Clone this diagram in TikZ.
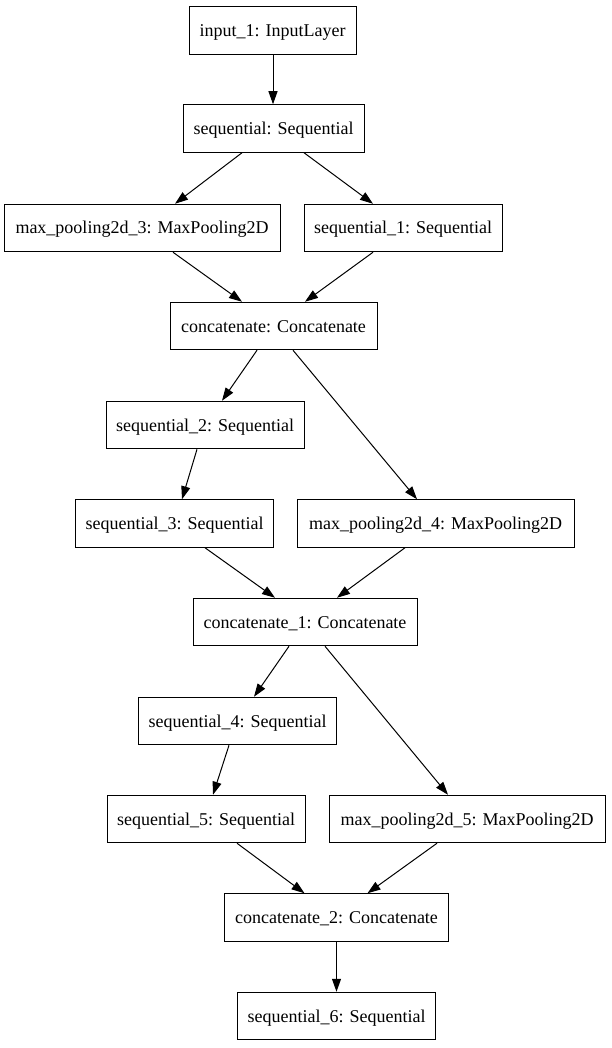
\documentclass[tikz,border=0pt]{standalone}
\usepackage{fontspec}
\setmainfont{Liberation Serif}
\usetikzlibrary{arrows.meta}
\begin{document}
\begin{tikzpicture}[x=1pt,y=-1pt,
  box/.style={draw, line width=1pt, rectangle, inner sep=0pt, minimum height=47.5pt, text height=16pt, text depth=4pt, font=\fontsize{18}{20}\selectfont},
  conn/.style={line width=1pt, -{Triangle[length=13pt,width=9pt]}}]
\useasboundingbox (0,0) rectangle (611,1048);
\node[box, minimum width=167pt] (in) at (272.5,30.5) {input\_1: InputLayer};
\node[box, minimum width=181pt] (seq) at (273.5,128.5) {sequential: Sequential};
\node[box, minimum width=276pt] (mp3) at (142,228) {max\_pooling2d\_3: MaxPooling2D};
\node[box, minimum width=198pt] (seq1) at (403,228) {sequential\_1: Sequential};
\node[box, minimum width=207pt] (cat) at (273.5,326) {concatenate: Concatenate};
\node[box, minimum width=198pt] (seq2) at (205,425) {sequential\_2: Sequential};
\node[box, minimum width=198pt] (seq3) at (174.5,523.5) {sequential\_3: Sequential};
\node[box, minimum width=277pt] (mp4) at (435.5,523.5) {max\_pooling2d\_4: MaxPooling2D};
\node[box, minimum width=224pt] (cat1) at (305,622) {concatenate\_1: Concatenate};
\node[box, minimum width=198pt] (seq4) at (237.5,721) {sequential\_4: Sequential};
\node[box, minimum width=198pt] (seq5) at (206,819) {sequential\_5: Sequential};
\node[box, minimum width=276pt] (mp5) at (467,819) {max\_pooling2d\_5: MaxPooling2D};
\node[box, minimum width=224pt] (cat2) at (336.5,917.5) {concatenate\_2: Concatenate};
\node[box, minimum width=198pt] (seq6) at (336.5,1016) {sequential\_6: Sequential};
\draw[conn] ([xshift=0.5pt]in.south) -- ([xshift=-0.5pt]seq.north);
\draw[conn] ([xshift=-31.5pt]seq.south) -- ([xshift=33pt]mp3.north);
\draw[conn] ([xshift=30.5pt]seq.south) -- ([xshift=-30pt]seq1.north);
\draw[conn] ([xshift=31pt]mp3.south) -- ([xshift=-31.5pt]cat.north);
\draw[conn] ([xshift=-30pt]seq1.south) -- ([xshift=31.5pt]cat.north);
\draw[conn] ([xshift=-16.5pt]cat.south) -- ([xshift=17pt]seq2.north);
\draw[conn] ([xshift=19.5pt]cat.south) -- ([xshift=-18.5pt]mp4.north);
\draw[conn] ([xshift=-8pt]seq2.south) -- ([xshift=7.5pt]seq3.north);
\draw[conn] ([xshift=30.5pt]seq3.south) -- ([xshift=-30pt]cat1.north);
\draw[conn] ([xshift=-30.5pt]mp4.south) -- ([xshift=32pt]cat1.north);
\draw[conn] ([xshift=-16pt]cat1.south) -- ([xshift=16.5pt]seq4.north);
\draw[conn] ([xshift=20pt]cat1.south) -- ([xshift=-19pt]mp5.north);
\draw[conn] ([xshift=-8.5pt]seq4.south) -- ([xshift=7pt]seq5.north);
\draw[conn] ([xshift=31pt]seq5.south) -- ([xshift=-32pt]cat2.north);
\draw[conn] ([xshift=-30pt]mp5.south) -- ([xshift=31pt]cat2.north);
\draw[conn] (cat2.south) -- (seq6.north);
\end{tikzpicture}
\end{document}
